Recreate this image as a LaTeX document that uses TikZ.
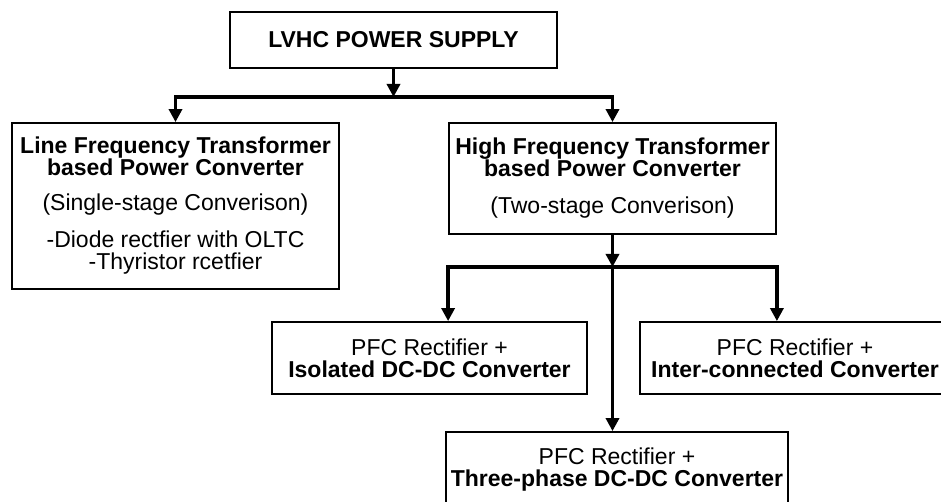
\documentclass[tikz,border=0pt]{standalone}
\usepackage{fontspec}
\setmainfont{Liberation Sans}
\usetikzlibrary{arrows.meta}
\begin{document}
\begin{tikzpicture}[x=1pt,y=-1pt,
  box/.style={draw=black, line width=1.8pt, rectangle, inner sep=0pt, align=center,
    font=\fontsize{23}{22}\selectfont},
  conn/.style={line width=3.4pt, -{Triangle[length=13pt,width=13pt]}},
  bar/.style={line width=3.8pt}]
\useasboundingbox (0,0) rectangle (941,502);
\node[box, minimum width=327pt, minimum height=56pt] (top) at (393.5,40) {\textbf{LVHC POWER SUPPLY}};
\node[box, minimum width=327pt, minimum height=166pt] (lf) at (175.5,206)
  {\textbf{Line Frequency Transformer}\\\textbf{based Power Converter}\\[13pt]
   (Single-stage Converison)\\[15pt]-Diode rectfier with OLTC\\-Thyristor rcetfier};
\node[box, minimum width=327pt, minimum height=111pt] (hf) at (612.5,178.5)
  {\textbf{High Frequency Transformer}\\\textbf{based Power Converter}\\[15pt](Two-stage Converison)};
\node[box, minimum width=315pt, minimum height=72pt] (iso) at (429.5,358)
  {PFC Rectifier +\\\textbf{Isolated DC-DC Converter}};
\node[box, minimum width=310pt, minimum height=72pt] (ic) at (795,358)
  {PFC Rectifier +\\\textbf{Inter-connected Converter}};
\node[box, minimum width=342pt, minimum height=76pt] (tp) at (617,470)
  {PFC Rectifier +\\\textbf{Three-phase DC-DC Converter}};
\coordinate (j1) at (393.5,97);
\coordinate (j2) at (612.5,267);
\draw[conn] (top.south) -- (j1);
\draw[bar] (lf.north |- j1) -- (hf.north |- j1);
\draw[conn] (j1) -| (lf.north);
\draw[conn] (j1) -| (hf.north);
\draw[conn] (hf.south) -- (j2);
\draw[bar] (hf.south west |- j2) -- (hf.south east |- j2);
\draw[conn] (j2) -| (hf.south west |- iso.north);
\draw[conn] (j2) -| (hf.south east |- ic.north);
\draw[conn] (j2) -- (j2 |- tp.north);
\end{tikzpicture}
\end{document}
